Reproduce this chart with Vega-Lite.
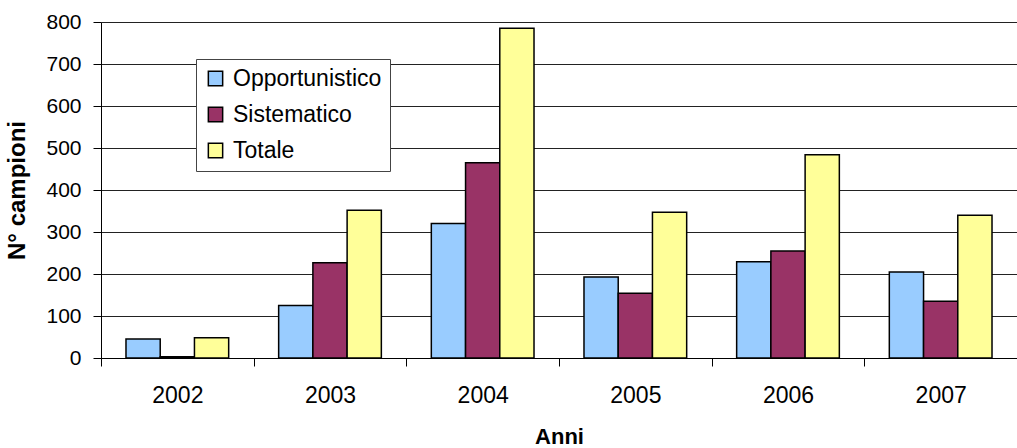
{
  "$schema": "https://vega.github.io/schema/vega-lite/v6.json",
  "width": 916,
  "height": 336,
  "autosize": {"type": "none"},
  "padding": {"left": 101, "top": 22, "right": 0, "bottom": 90},
  "background": "white",
  "data": {
    "values": [
      {"anno": "2002", "serie": "Opportunistico", "valore": 45},
      {"anno": "2002", "serie": "Sistematico", "valore": 3},
      {"anno": "2002", "serie": "Totale", "valore": 48},
      {"anno": "2003", "serie": "Opportunistico", "valore": 125},
      {"anno": "2003", "serie": "Sistematico", "valore": 227},
      {"anno": "2003", "serie": "Totale", "valore": 352},
      {"anno": "2004", "serie": "Opportunistico", "valore": 320},
      {"anno": "2004", "serie": "Sistematico", "valore": 465},
      {"anno": "2004", "serie": "Totale", "valore": 785},
      {"anno": "2005", "serie": "Opportunistico", "valore": 193},
      {"anno": "2005", "serie": "Sistematico", "valore": 154},
      {"anno": "2005", "serie": "Totale", "valore": 347},
      {"anno": "2006", "serie": "Opportunistico", "valore": 229},
      {"anno": "2006", "serie": "Sistematico", "valore": 255},
      {"anno": "2006", "serie": "Totale", "valore": 484},
      {"anno": "2007", "serie": "Opportunistico", "valore": 205},
      {"anno": "2007", "serie": "Sistematico", "valore": 135},
      {"anno": "2007", "serie": "Totale", "valore": 340}
    ]
  },
  "mark": {"type": "bar", "stroke": "#000", "strokeWidth": 1.5},
  "encoding": {
    "x": {
      "field": "anno",
      "type": "nominal",
      "scale": {"paddingInner": 0, "paddingOuter": 0},
      "axis": {
        "title": "Anni",
        "titleFont": "Liberation Sans",
        "titleFontSize": 22,
        "titleFontWeight": "bold",
        "titleColor": "#000",
        "titlePadding": 19,
        "labelFont": "Liberation Sans",
        "labelFontSize": 23,
        "labelColor": "#000",
        "labelAngle": 0,
        "labelPadding": 18,
        "tickBand": "extent",
        "tickSize": 8,
        "tickColor": "#000",
        "domainColor": "#000",
        "grid": false
      }
    },
    "xOffset": {
      "field": "serie",
      "type": "nominal",
      "sort": ["Opportunistico", "Sistematico", "Totale"],
      "scale": {"paddingInner": 0, "paddingOuter": 0.73}
    },
    "y": {
      "field": "valore",
      "type": "quantitative",
      "scale": {"domain": [0, 800], "nice": false},
      "axis": {
        "title": "N° campioni",
        "titleFont": "Liberation Sans",
        "titleFontSize": 24,
        "titleFontWeight": "bold",
        "titleColor": "#000",
        "titlePadding": 16,
        "labelFont": "Liberation Sans",
        "labelFontSize": 21,
        "labelColor": "#000",
        "labelPadding": 12,
        "values": [0, 100, 200, 300, 400, 500, 600, 700, 800],
        "tickSize": 8,
        "tickColor": "#000",
        "domainColor": "#000",
        "grid": true,
        "gridColor": "#222",
        "gridOpacity": 1
      }
    },
    "color": {
      "field": "serie",
      "type": "nominal",
      "sort": ["Opportunistico", "Sistematico", "Totale"],
      "scale": {
        "domain": ["Opportunistico", "Sistematico", "Totale"],
        "range": ["#99CCFF", "#993366", "#FFFF99"]
      },
      "legend": {
        "orient": "none",
        "legendX": 95,
        "legendY": 37,
        "title": null,
        "labelFont": "Liberation Sans",
        "labelFontSize": 23,
        "labelColor": "#000",
        "labelOffset": 6,
        "symbolType": "square",
        "symbolSize": 205,
        "symbolStrokeColor": "#000",
        "symbolStrokeWidth": 1.5,
        "symbolOpacity": 1,
        "strokeColor": "#444",
        "fillColor": "#fff",
        "padding": 8,
        "rowPadding": 12
      }
    }
  },
  "config": {"view": {"stroke": null}}
}
